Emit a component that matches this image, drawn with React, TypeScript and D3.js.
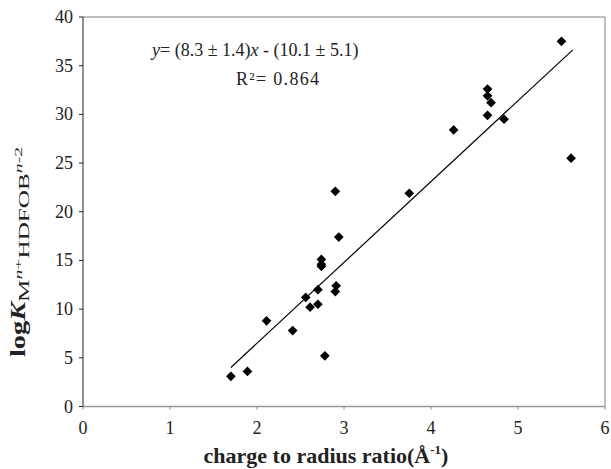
import React from "react";
import * as d3 from "d3";

const xValues = [1.70, 1.89, 2.11, 2.41, 2.56, 2.61, 2.70, 2.70, 2.74, 2.74, 2.74, 2.78, 2.90, 2.91, 2.90, 2.94, 3.75, 4.26, 4.65, 4.65, 4.69, 4.65, 4.84, 5.50, 5.61];
const yValues = [3.1, 3.6, 8.8, 7.8, 11.2, 10.2, 12.0, 10.5, 15.1, 14.6, 14.4, 5.2, 22.1, 12.4, 11.8, 17.4, 21.9, 28.4, 32.6, 31.9, 31.2, 29.9, 29.5, 37.5, 25.5];
const fitSlope = 8.3;
const fitIntercept = -10.1;
const fitRange = [1.7, 5.63];
const xTicks = [0, 1, 2, 3, 4, 5, 6];
const yTicks = [0, 5, 10, 15, 20, 25, 30, 35, 40];

const W = 611, H = 469;
const M = { left: 83, right: 605, top: 17, bottom: 406.5 };
const FONT = "'Liberation Serif', 'Times New Roman', serif";

export default function App() {
  const x = d3.scaleLinear().domain([0, 6]).range([M.left, M.right]);
  const y = d3.scaleLinear().domain([0, 40]).range([M.bottom, M.top]);
  const diamond = d3.symbol().type(d3.symbolDiamond2).size(60)();
  const line = d3.line<number>().x((d) => x(d)).y((d) => y(fitSlope * d + fitIntercept));
  return (
    <svg width={W} height={H} style={{ position: "absolute", left: 0, top: 0, background: "#fff" }} fontFamily={FONT}>
      <rect x={0} y={0} width={W} height={H} fill="#fff" />
      <line x1={M.left} x2={M.right} y1={M.top} y2={M.top} stroke="#808080" strokeWidth={1} />
      <line x1={M.right} x2={M.right} y1={M.top} y2={M.bottom} stroke="#808080" strokeWidth={1} />
      <line x1={M.left} x2={M.right} y1={M.bottom} y2={M.bottom} stroke="#999" strokeWidth={1.5} />
      <line x1={M.left} x2={M.left} y1={M.top} y2={M.bottom} stroke="#222" strokeWidth={1} />
      {yTicks.map((t) => (
        <g key={"y" + t}>
          <line x1={M.left - 4} x2={M.left} y1={y(t)} y2={y(t)} stroke="#222" />
          <text x={M.left - 10} y={y(t) + 6} textAnchor="end" fontSize={18} fill="#222">{t}</text>
        </g>
      ))}
      {xTicks.map((t) => (
        <g key={"x" + t}>
          <line x1={x(t)} x2={x(t)} y1={M.bottom} y2={M.bottom + 3} stroke="#888" />
          <text x={x(t)} y={M.bottom + 27} textAnchor="middle" fontSize={18} fill="#222">{t}</text>
        </g>
      ))}
      <path d={line(fitRange) || ""} stroke="#000" strokeWidth={1.2} fill="none" />
      {xValues.map((xv, i) => (
        <path key={i} d={diamond || ""} transform={`translate(${x(xv)},${y(yValues[i])})`} fill="#000" />
      ))}
      <text x={152} y={56} fontSize={18} fill="#222">
        <tspan fontStyle="italic">y</tspan>= (8.3 ± 1.4)<tspan fontStyle="italic">x</tspan> - (10.1 ± 5.1)
      </text>
      <text x={236} y={85} fontSize={18} fill="#222" textLength={83} lengthAdjust="spacing">R²= 0.864</text>
      <text x={326} y={463} textAnchor="middle" fontSize={22} fontWeight="bold" fill="#222">
        charge to radius ratio(Å<tspan fontSize={13} dy={-9}>-1</tspan><tspan dy={9}>)</tspan>
      </text>
      <text transform="translate(25,357) rotate(-90) scale(1.35,1)" fontSize={21} fontWeight="bold" fill="#222">
        log<tspan fontStyle="italic">K</tspan>
      </text>
      <text transform="translate(29,302) rotate(-90) scale(1.8,1)" fontSize={14} fill="#222">
        M<tspan fontSize={11} fontStyle="italic" dy={-7}>n</tspan>
        <tspan fontSize={11}>+</tspan>
        <tspan dy={7}>HDFOB</tspan>
        <tspan fontSize={11} fontStyle="italic" dy={-7}>n</tspan>
        <tspan fontSize={11}>-2</tspan>
      </text>
    </svg>
  );
}
